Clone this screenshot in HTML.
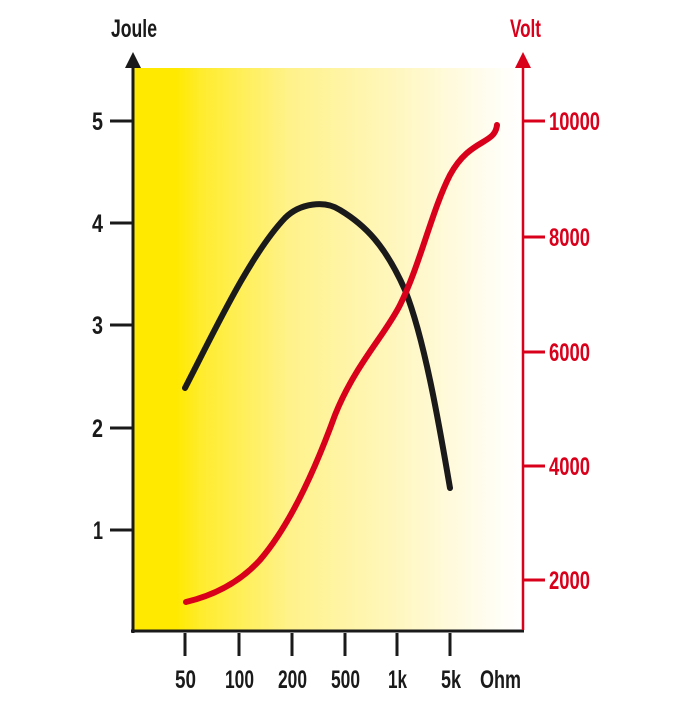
<!DOCTYPE html>
<html><head><style>
html,body{margin:0;padding:0;background:#fff;}
svg text{font-family:"Liberation Sans",sans-serif;font-weight:bold;}
</style></head><body>
<svg width="700" height="700" viewBox="0 0 700 700" xmlns="http://www.w3.org/2000/svg">
<defs>
<linearGradient id="g" x1="0" y1="0" x2="1" y2="0">
<stop offset="0" stop-color="#ffe900"/>
<stop offset="0.11" stop-color="#ffe900"/>
<stop offset="0.18" stop-color="#ffec30"/>
<stop offset="0.4" stop-color="#fff28a"/>
<stop offset="0.7" stop-color="#fff7c4"/>
<stop offset="0.95" stop-color="#fffef8"/>
<stop offset="1" stop-color="#ffffff"/>
</linearGradient>
</defs>
<rect x="133" y="68" width="390" height="563" fill="url(#g)"/>
<line x1="133" y1="62" x2="133" y2="633" stroke="#1a1a1a" stroke-width="3"/>
<polygon points="125,68 141,68 133,52" fill="#1a1a1a"/>
<line x1="131" y1="631" x2="524" y2="631" stroke="#1a1a1a" stroke-width="3"/>
<line x1="523" y1="62" x2="523" y2="630" stroke="#d9001b" stroke-width="2.5"/>
<polygon points="515,68 531,68 523,52" fill="#d9001b"/>
<text x="111" y="37" font-size="25" textLength="46" lengthAdjust="spacingAndGlyphs" fill="#1a1a1a">Joule</text>
<text x="510" y="37" font-size="25" textLength="31" lengthAdjust="spacingAndGlyphs" fill="#d9001b">Volt</text>
<g stroke="#1a1a1a" stroke-width="3">
<line x1="110" y1="121" x2="133" y2="121"/>
<line x1="110" y1="223" x2="133" y2="223"/>
<line x1="110" y1="325" x2="133" y2="325"/>
<line x1="110" y1="428" x2="133" y2="428"/>
<line x1="110" y1="530" x2="133" y2="530"/>
<line x1="185" y1="633" x2="185" y2="656"/>
<line x1="239" y1="633" x2="239" y2="656"/>
<line x1="292" y1="633" x2="292" y2="656"/>
<line x1="345" y1="633" x2="345" y2="656"/>
<line x1="397" y1="633" x2="397" y2="656"/>
<line x1="450" y1="633" x2="450" y2="656"/>
</g>
<g font-size="25" fill="#1a1a1a">
<text x="92" y="130" textLength="11" lengthAdjust="spacingAndGlyphs">5</text>
<text x="92" y="232" textLength="11" lengthAdjust="spacingAndGlyphs">4</text>
<text x="92" y="334" textLength="11" lengthAdjust="spacingAndGlyphs">3</text>
<text x="92" y="437" textLength="11" lengthAdjust="spacingAndGlyphs">2</text>
<text x="93" y="539" textLength="10" lengthAdjust="spacingAndGlyphs">1</text>
<text x="175" y="688" textLength="21" lengthAdjust="spacingAndGlyphs">50</text>
<text x="225" y="688" textLength="29" lengthAdjust="spacingAndGlyphs">100</text>
<text x="278" y="688" textLength="29" lengthAdjust="spacingAndGlyphs">200</text>
<text x="331" y="688" textLength="29" lengthAdjust="spacingAndGlyphs">500</text>
<text x="388" y="688" textLength="19" lengthAdjust="spacingAndGlyphs">1k</text>
<text x="441" y="688" textLength="20" lengthAdjust="spacingAndGlyphs">5k</text>
<text x="480" y="688" textLength="41" lengthAdjust="spacingAndGlyphs">Ohm</text>
</g>
<g stroke="#d9001b" stroke-width="3">
<line x1="523" y1="121" x2="545" y2="121"/>
<line x1="523" y1="237" x2="545" y2="237"/>
<line x1="523" y1="352" x2="545" y2="352"/>
<line x1="523" y1="466" x2="545" y2="466"/>
<line x1="523" y1="580" x2="545" y2="580"/>
</g>
<g font-size="25" fill="#d9001b">
<text x="549" y="130" textLength="51" lengthAdjust="spacingAndGlyphs">10000</text>
<text x="549" y="246" textLength="41" lengthAdjust="spacingAndGlyphs">8000</text>
<text x="549" y="361" textLength="41" lengthAdjust="spacingAndGlyphs">6000</text>
<text x="549" y="475" textLength="41" lengthAdjust="spacingAndGlyphs">4000</text>
<text x="549" y="589" textLength="41" lengthAdjust="spacingAndGlyphs">2000</text>
</g>
<path d="M185,388 C215,330 250,255 285,218 C300,203 325,200 340,210 C365,225 385,245 405,290 C425,340 440,430 450,488" fill="none" stroke="#1a1a1a" stroke-width="6" stroke-linecap="round"/>
<path d="M186,602 C215,595 240,582 260,560 C290,525 315,470 335,415 C355,365 385,335 400,305 C420,265 432,210 450,175 C470,138 495,145 497,125" fill="none" stroke="#d9001b" stroke-width="6" stroke-linecap="round"/>
</svg>
</body></html>
